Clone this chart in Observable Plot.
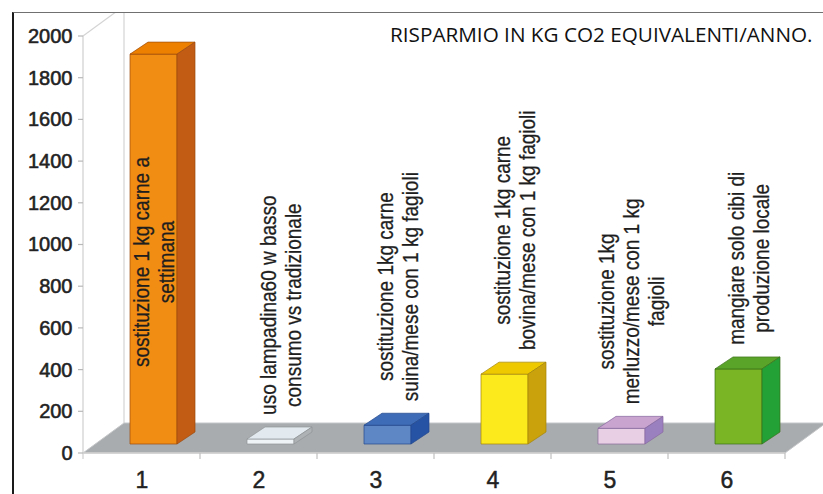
<!DOCTYPE html>
<html>
<head>
<meta charset="utf-8">
<script src="https://cdn.jsdelivr.net/npm/d3@7"></script>
<script src="https://cdn.jsdelivr.net/npm/@observablehq/plot@0.6"></script>
<style>
  html, body { margin: 0; padding: 0; background: #fff; }
  #chart { position: relative; width: 823px; height: 494px; overflow: hidden; }
  #chart::before { content: ""; position: absolute; left: 12px; top: 12px; right: -5px; bottom: -5px;
    border-top: 1.5px solid #707070; border-left: 2px solid #1a1a1a; pointer-events: none; z-index: 2; }
  #chart svg { position: absolute; left: 0; top: 0; }
  g[aria-label="y-labels"] text { letter-spacing: 2px; }
</style>
</head>
<body>
<div id="chart"></div>
<script>
// ---- data ----
const categories = ["1", "2", "3", "4", "5", "6"];
const values = [1870, 24, 90, 335, 75, 360];
const labels = [
  ["sostituzione 1 kg carne a", "settimana"],
  ["uso lampadina60 w basso", "consumo vs tradizionale"],
  ["sostituzione 1kg carne", "suina/mese con 1 kg fagioli"],
  ["sostituzione 1kg carne", "bovina/mese con 1 kg fagioli"],
  ["sostituzione 1kg", "merluzzo/mese con 1 kg", "fagioli"],
  ["mangiare solo cibi di", "produzione locale"]
];
const yTicks = [0, 200, 400, 600, 800, 1000, 1200, 1400, 1600, 1800, 2000];
const title = "RISPARMIO IN KG CO2 EQUIVALENTI/ANNO.";

// ---- styles ----
const frontColors = ["#f28d14", "#eef3f6", "#5e87c6", "#fdea1c", "#e8cfe4", "#7ab526"];
const topColors   = ["#ee8000", "#e2eaef", "#3f6cb6", "#efc900", "#c8a4cf", "#5ba42a"];
const sideColors  = ["#c25c15", "#aeb2b4", "#2753a5", "#c9a20c", "#9b80c0", "#23a036"];
const edgeColors  = ["#9c4a0c", "#8f9496", "#22478c", "#a3850a", "#86699f", "#3b7119"];
const W = 823, H = 494;
const FLOOR = {dx: 41, dy: -30};
const BAR = {w: 47, shift: 12, lift: 9, dx: 18, dy: 12};
const LABEL_FONT = 19, LABEL_LH = 25, STRETCH = 1.2;
const FONT = "'Liberation Sans', Arial, sans-serif";

const ctx = document.createElement("canvas").getContext("2d");
function textLen(lines) {
  ctx.font = `${LABEL_FONT}px ${FONT}`;
  return Math.max(...lines.map(l => ctx.measureText(l).width));
}

function scene(index, scales) {
  const {x, y} = scales;
  const step = x(categories[1]) - x(categories[0]);
  const xa = x(categories[0]);
  const xb = x(categories[categories.length - 1]) + step;
  const y0 = y(0), yTop = y(d3.max(yTicks));
  const g = d3.create("svg:g");
  g.append("clipPath").attr("id", "clip3d").append("rect")
    .attr("x", 12).attr("y", 12).attr("width", W).attr("height", H);
  const back = g.append("g").attr("clip-path", "url(#clip3d)");
  // back wall
  back.append("line").attr("x1", xa + FLOOR.dx).attr("x2", xa + FLOOR.dx)
    .attr("y1", yTop + FLOOR.dy).attr("y2", y0 + FLOOR.dy).attr("stroke", "#d4d4d4").attr("stroke-width", 1.2);
  back.append("line").attr("x1", xa).attr("y1", yTop).attr("x2", xa + FLOOR.dx).attr("y2", yTop + FLOOR.dy)
    .attr("stroke", "#d4d4d4").attr("stroke-width", 1.2);
  // y axis line and ticks
  back.append("line").attr("x1", xa).attr("x2", xa).attr("y1", yTop).attr("y2", y0 + 6)
    .attr("stroke", "#cfcfcf").attr("stroke-width", 1.2);
  for (const t of yTicks) {
    back.append("line").attr("x1", xa - 5).attr("x2", xa).attr("y1", y(t)).attr("y2", y(t))
      .attr("stroke", "#b8b8b8").attr("stroke-width", 1.2);
  }
  // floor
  back.append("polygon")
    .attr("points", [[xa, y0], [xb, y0], [xb + FLOOR.dx, y0 + FLOOR.dy], [xa + FLOOR.dx, y0 + FLOOR.dy]].join(" "))
    .attr("fill", "#a9acae").attr("stroke", "#c4c6c8").attr("stroke-width", 1);
  back.append("line").attr("x1", xa).attr("x2", xb).attr("y1", y0).attr("y2", y0)
    .attr("stroke", "#d0d0d0").attr("stroke-width", 1.5);
  categories.forEach((c) => {
    const bx = x(c) + step;
    back.append("line").attr("x1", bx).attr("x2", bx).attr("y1", y0).attr("y2", y0 + 6)
      .attr("stroke", "#c0c0c0").attr("stroke-width", 1.2);
  });
  // bars
  categories.forEach((c, i) => {
    const cx = x(c) + step / 2 + BAR.shift;
    const bx = cx - BAR.w / 2, bx2 = cx + BAR.w / 2;
    const base = y0 - BAR.lift, top = y(values[i]) - BAR.lift;
    const poly = (pts, fill) => g.append("polygon").attr("points", pts.join(" "))
      .attr("fill", fill).attr("stroke", edgeColors[i]).attr("stroke-width", 0.7).attr("stroke-linejoin", "round");
    poly([[bx, top], [bx2, top], [bx2, base], [bx, base]], frontColors[i]);
    poly([[bx, top], [bx2, top], [bx2 + BAR.dx, top - BAR.dy], [bx + BAR.dx, top - BAR.dy]], topColors[i]);
    poly([[bx2, top], [bx2 + BAR.dx, top - BAR.dy], [bx2 + BAR.dx, base - BAR.dy], [bx2, base]], sideColors[i]);
  });
  // rotated category descriptions
  categories.forEach((c, i) => {
    const lines = labels[i];
    const len = textLen(lines);
    const barPx = y0 - y(values[i]);
    let lx, ly;
    if (barPx > len + 60) {
      lx = x(c) + step / 2 + BAR.shift;
      ly = y(values[i] / 2) + 4;
    } else {
      lx = x(c) + step / 2 + BAR.shift + BAR.dx / 2 + 1;
      ly = y(values[i]) - BAR.lift - BAR.dy - 12 - len / 2;
    }
    const t = g.append("text").attr("transform", `translate(${lx},${ly}) scale(${STRETCH},1) rotate(-90)`)
      .attr("text-anchor", "middle").attr("font-size", LABEL_FONT).attr("fill", "#1e1e1e")
      .attr("stroke", "#1e1e1e").attr("stroke-width", 0.25);
    const n = lines.length;
    lines.forEach((l, k) => {
      t.append("tspan").attr("x", 0).attr("y", (k - (n - 1) / 2) * LABEL_LH / STRETCH).attr("dy", "0.35em").text(l);
    });
  });
  return g.node();
}

const chart = Plot.plot({
  width: W,
  height: H,
  marginLeft: 81,
  marginRight: 36,
  marginTop: 36,
  marginBottom: 41,
  style: {fontFamily: FONT, background: "transparent", color: "#222", overflow: "visible"},
  x: {type: "band", domain: categories, padding: 0, axis: null},
  y: {domain: [0, 2000], axis: null},
  marks: [
    scene,
    Plot.text(yTicks, {y: d => d, text: d => String(d), frameAnchor: "left", textAnchor: "end",
      dx: -9, fontSize: 20, fill: "#222", stroke: "#333", strokeWidth: 0.6, ariaLabel: "y-labels"}),
    Plot.text(categories, {x: d => d, text: d => d, frameAnchor: "bottom", lineAnchor: "middle", dy: 27, fontSize: 23,
      fill: "#222", stroke: "#333", strokeWidth: 0.5}),
    Plot.text([title], {text: d => d, frameAnchor: "top-right", textAnchor: "end", lineAnchor: "middle", dx: 25, dy: -1,
      fontSize: 20.7, fill: "#111", fontFamily: "'Open Sans', sans-serif"})
  ]
});
document.getElementById("chart").appendChild(chart);
</script>
</body>
</html>
